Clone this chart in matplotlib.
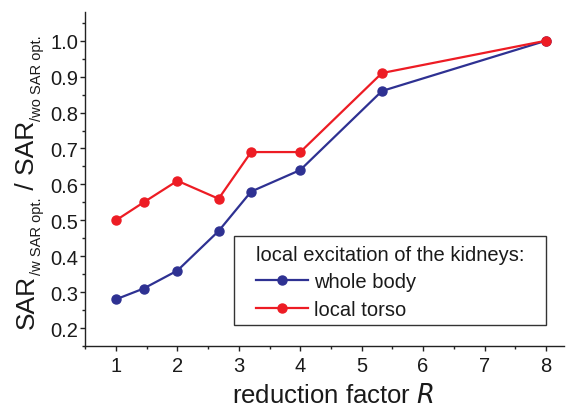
import numpy as np
import matplotlib.pyplot as plt
from matplotlib.ticker import MultipleLocator
from matplotlib.transforms import IdentityTransform
from matplotlib.patches import Rectangle

plt.rcParams['font.family'] = ['Liberation Sans', 'DejaVu Sans']

# ---------------------------
# Data
# ---------------------------
R = [1.0, 1.45, 2.0, 2.67, 3.2, 4.0, 5.33, 8.0]
whole_body = [0.28, 0.31, 0.36, 0.47, 0.58, 0.64, 0.86, 1.00]
local_torso = [0.50, 0.55, 0.61, 0.56, 0.69, 0.69, 0.91, 1.00]

BLUE = '#2e3192'
RED = '#ed1c24'
AX_COL = '#222222'
TXT_COL = '#1a1a1a'

W, H = 571, 410

# ---------------------------
# Figure / axes
# ---------------------------
fig = plt.figure(figsize=(W / 100, H / 100), dpi=100)
ax = fig.add_axes([0.1494, 0.1537, 0.9884 - 0.1494, 0.9683 - 0.1537])

ax.plot(R, whole_body, '-o', color=BLUE, lw=1.6, ms=6.5, label='whole body')
ax.plot(R, local_torso, '-o', color=RED, lw=1.6, ms=6.5, label='local torso')

ax.set_xlim(0.5, 8.3)
ax.set_ylim(0.15, 1.08)
ax.xaxis.set_major_locator(MultipleLocator(1))
ax.xaxis.set_minor_locator(MultipleLocator(0.5))
ax.yaxis.set_major_locator(MultipleLocator(0.1))
ax.yaxis.set_minor_locator(MultipleLocator(0.05))
ax.yaxis.set_major_formatter(plt.FormatStrFormatter('%.1f'))

for side in ['top', 'right']:
    ax.spines[side].set_visible(False)
for side in ['left', 'bottom']:
    ax.spines[side].set_color(AX_COL)
    ax.spines[side].set_linewidth(1.0)

ax.tick_params(which='major', direction='out', length=3.8, width=1.0,
               color=AX_COL, labelsize=14.5, labelcolor=TXT_COL)
ax.tick_params(which='minor', direction='out', length=2.4, width=1.0, color=AX_COL)
ax.tick_params(axis='y', which='major', pad=1.2)
ax.tick_params(axis='x', which='major', pad=3.5)

ax.set_xlabel('reduction factor $\\mathit{R}$', fontsize=18.5, color=TXT_COL)
ax.xaxis.set_label_coords(0.517, -0.11)

# ---------------------------
# Legend (frame drawn separately, wider side padding)
# ---------------------------
leg = ax.legend(title='local excitation of the kidneys:', loc='upper left',
                bbox_to_anchor=(256 / W, (H - 246) / H),
                bbox_transform=fig.transFigure, borderaxespad=0, borderpad=0,
                fontsize=14.5, title_fontsize=14.5, numpoints=1,
                handlelength=2.6, handletextpad=0.3, labelspacing=0.42,
                alignment='left', frameon=False)
for t in leg.get_texts():
    t.set_color(TXT_COL)
leg.get_title().set_color(TXT_COL)

box = Rectangle((234, H - 326), 312, 89, transform=IdentityTransform(),
                facecolor='white', edgecolor='#333333', linewidth=1.0, zorder=4)
fig.add_artist(box)
leg.set_zorder(5)
fig.add_artist(leg)

# ---------------------------
# Y label built from pieces (large SAR, small subscripts)
# ---------------------------
renderer = fig.canvas.get_renderer()
base_x = 33.5
y_pos = H - 329
pieces = [
    ('SAR', 19, 0),
    ('/w SAR opt.', 10.5, 7.5),
    (' / SAR', 19, 0),
    ('/wo SAR opt.', 10.5, 7.5),
]
for txt, size, shift in pieces:
    t = fig.text(base_x + shift, y_pos, txt, fontsize=size, rotation=90,
                 rotation_mode='anchor', ha='left', va='baseline',
                 color=TXT_COL, transform=IdentityTransform())
    bb = t.get_window_extent(renderer)
    y_pos += bb.height

fig.savefig('out.png', dpi=100)
